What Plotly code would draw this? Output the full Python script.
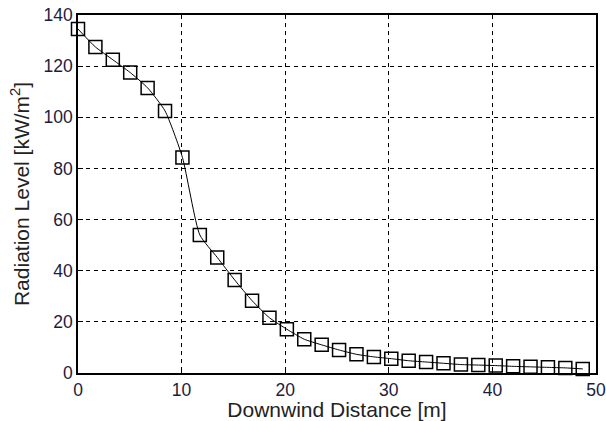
import plotly.graph_objects as go

distance_m = [0, 1.68, 3.36, 5.04, 6.72, 8.4, 10.08, 11.76, 13.44, 15.12,
              16.8, 18.48, 20.16, 21.84, 23.52, 25.2, 26.88, 28.56, 30.24, 31.92,
              33.6, 35.28, 36.96, 38.64, 40.32, 42.0, 43.68, 45.36, 47.04, 48.72]
radiation_kw = [134.5, 127.5, 122.5, 117.5, 111.5, 102.5, 84.3, 54.0, 45.2, 36.4,
                28.3, 21.6, 17.1, 13.2, 11.0, 9.0, 7.3, 6.3, 5.6, 4.8,
                4.3, 3.8, 3.3, 3.1, 2.9, 2.6, 2.4, 2.2, 2.0, 1.6]

x_ticks = [0, 10, 20, 30, 40, 50]
y_ticks = [0, 20, 40, 60, 80, 100, 120, 140]

fig = go.Figure()
fig.add_trace(go.Scatter(
    x=distance_m, y=radiation_kw, mode="lines+markers",
    line=dict(color="black", width=1, shape="spline", smoothing=0.55),
    marker=dict(symbol="square-open", size=13, color="black", line=dict(width=1.5, color="black")),
    showlegend=False, cliponaxis=False,
))

tick_font = dict(family="Liberation Sans, Arial, sans-serif", size=17.5, color="#1c1c3c")
title_font = dict(family="Liberation Sans, Arial, sans-serif", size=21, color="#222222")

fig.update_layout(
    width=606, height=421,
    margin=dict(l=78, r=10, t=15, b=48),
    paper_bgcolor="white", plot_bgcolor="white",
    xaxis=dict(
        range=[0, 50], tickvals=x_ticks, ticktext=[str(v) for v in x_ticks],
        showgrid=True, gridcolor="black", gridwidth=1, griddash="4px,4px",
        showline=True, linecolor="black", linewidth=1.5, mirror=True,
        ticks="inside", ticklen=5, tickcolor="black",
        zeroline=False, tickfont=tick_font,
        title=dict(text="Downwind Distance [m]", font=title_font, standoff=0),
        automargin=False,
    ),
    yaxis=dict(
        range=[0, 140], tickvals=y_ticks, ticktext=[str(v) for v in y_ticks],
        showgrid=True, gridcolor="black", gridwidth=1, griddash="4px,4px",
        showline=True, linecolor="black", linewidth=1.5, mirror=True,
        ticks="inside", ticklen=5, tickcolor="black",
        zeroline=False, tickfont=tick_font,
        title=dict(text="Radiation Level [kW/m<sup>2</sup>]", font=title_font, standoff=8),
        automargin=False,
    ),
)

fig.write_html("out.html", config={"displayModeBar": False},
               post_script="document.body.style.margin='0';document.body.style.overflow='hidden';")
